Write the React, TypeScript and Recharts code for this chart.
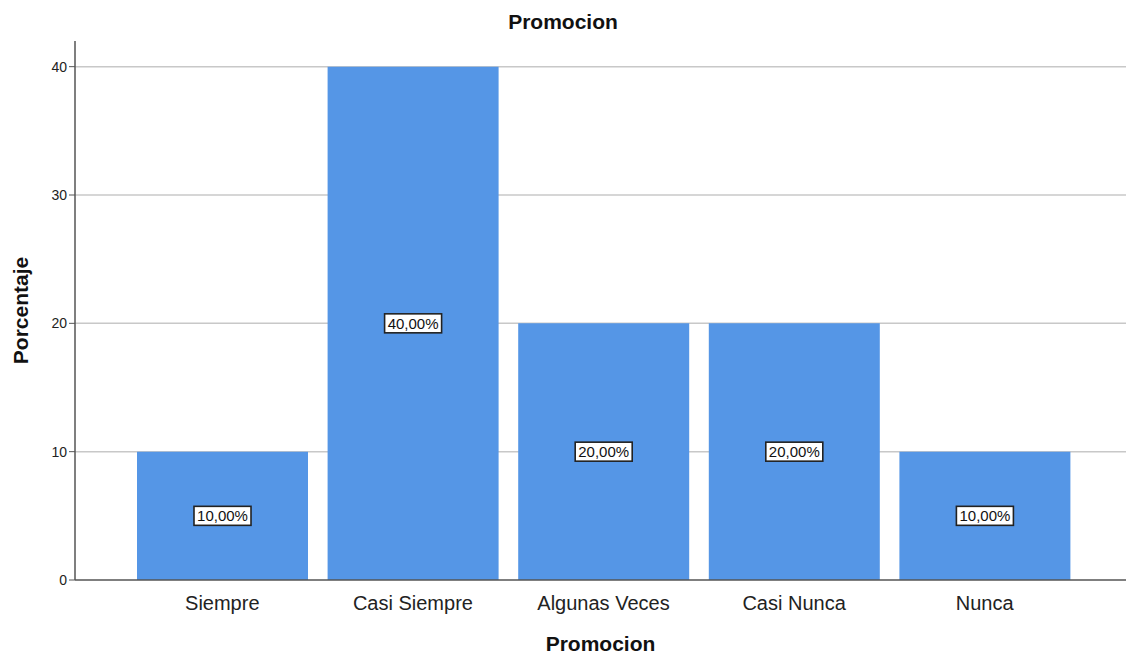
import React from 'react';
import { BarChart, Bar, XAxis, YAxis, CartesianGrid, LabelList, Label } from 'recharts';

const categories = ['Siempre', 'Casi Siempre', 'Algunas Veces', 'Casi Nunca', 'Nunca'];
const percentages = [10, 40, 20, 20, 10];
const yTicks = [0, 10, 20, 30, 40];
const gridValues = [10, 20, 30, 40];

const data = categories.map((name, i) => ({ name, value: percentages[i] }));

const FONT = '"Liberation Sans", Arial, sans-serif';
const BAR_COLOR = '#5596E6';

const formatPct = (v: number) => v.toFixed(2).replace('.', ',') + '%';

// white boxed value label in the middle of each bar
const BoxLabel = (props: any) => {
  const { x, y, width, height, value } = props;
  const cx = x + width / 2;
  const cy = y + height / 2;
  const w = 57;
  const h = 19;
  return (
    <g>
      <rect x={cx - w / 2} y={cy - h / 2} width={w} height={h} fill="#fff" stroke="#222" strokeWidth={1.6} />
      <text x={cx} y={cy + 5.5} textAnchor="middle" fontSize={15} fontFamily={FONT} fill="#111">
        {formatPct(value)}
      </text>
    </g>
  );
};

const App = () => {
  return (
    <div style={{ position: 'absolute', left: 0, top: 0, width: 1126, height: 656, background: '#fff' }}>
      <div
        style={{
          position: 'absolute',
          top: 10,
          left: 0,
          width: 1126,
          textAlign: 'center',
          fontFamily: FONT,
          fontWeight: 'bold',
          fontSize: 21,
          color: '#111',
        }}
      >
        Promocion
      </div>
      <BarChart
        width={1126}
        height={656}
        data={data}
        margin={{ top: 41, right: 0, bottom: 0, left: 0 }}
      >
        <CartesianGrid vertical={false} horizontalValues={gridValues} stroke="#c8c8c8" strokeWidth={1.5} />
        <XAxis
          dataKey="name"
          height={76}
          padding={{ left: 52, right: 46 }}
          tickLine={false}
          axisLine={{ stroke: '#555', strokeWidth: 1.5 }}
          tickMargin={10}
          tick={{ fontSize: 20, fontFamily: FONT, fill: '#222' }}
        >
          <Label
            value="Promocion"
            position="insideBottom"
            offset={5}
            style={{ fontSize: 21, fontWeight: 'bold', fontFamily: FONT, fill: '#111' }}
          />
        </XAxis>
        <YAxis
          width={75}
          domain={[0, 42]}
          ticks={yTicks}
          interval={0}
          tickSize={6}
          tickLine={{ stroke: '#555' }}
          axisLine={{ stroke: '#555', strokeWidth: 1.5 }}
          tick={{ fontSize: 14, fontFamily: FONT, fill: '#222' }}
        >
          <Label
            value="Porcentaje"
            angle={-90}
            position="center"
            dx={-17}
            style={{ fontSize: 21, fontWeight: 'bold', fontFamily: FONT, fill: '#111', textAnchor: 'middle' }}
          />
        </YAxis>
        <Bar dataKey="value" fill={BAR_COLOR} barSize={171} isAnimationActive={false}>
          <LabelList dataKey="value" content={BoxLabel} />
        </Bar>
      </BarChart>
    </div>
  );
};

export default App;
